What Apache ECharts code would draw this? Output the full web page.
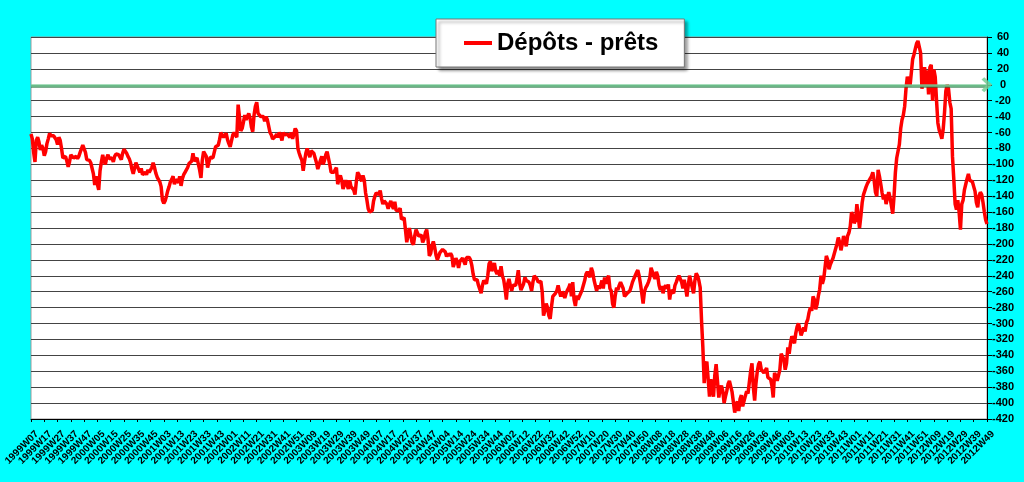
<!DOCTYPE html>
<html>
<head>
<meta charset="utf-8">
<script src="https://cdn.jsdelivr.net/npm/echarts@6/dist/echarts.min.js"></script>
<style>
html,body{margin:0;padding:0;background:#00ffff;}
#chart{width:1024px;height:482px;}
</style>
</head>
<body>
<div id="chart"></div>
<script>
// ISO weeks: first category 1999W07, last 2012W49
const years = [1999,2000,2001,2002,2003,2004,2005,2006,2007,2008,2009,2010,2011,2012];
const weeksPerYear = [52,52,52,52,52,53,52,52,52,52,53,52,52,52];
const firstWeek = 7;
const lastWeek = 49;
const labelStep = 10;

const v1999 = [-62,-68,-85,-97,-70,-66,-72,-82,-76,-80,
-89,-84,-74,-68,-61,-64,-66,-64,-63,-69,
-75,-66,-70,-80,-92,-94,-90,-96,-103,-97,
-88,-87,-92,-94,-90,-93,-90,-85,-83,-76,
-75,-85,-94,-93,-95,-98];
const v2000 = [-100,-112,-126,-115,-125,-132,-108,-97,-88,-96,
-100,-92,-88,-93,-91,-92,-97,-90,-87,-85,
-88,-91,-94,-86,-81,-80,-86,-90,-93,-98,
-106,-112,-105,-98,-100,-106,-110,-105,-113,-112,
-110,-113,-107,-110,-108,-104,-98,-104,-111,-116,
-118,-122];
const v2001 = [-128,-145,-149,-146,-140,-133,-128,-122,-119,-115,
-125,-119,-118,-123,-115,-127,-118,-113,-110,-107,
-104,-99,-97,-96,-86,-96,-94,-92,-90,-107,
-117,-95,-84,-83,-90,-104,-97,-91,-91,-92,
-85,-78,-77,-76,-69,-60,-61,-66,-68,-61,
-69,-74];
const v2002 = [-78,-80,-63,-60,-62,-66,-25,-40,-58,-55,
-47,-38,-44,-40,-36,-42,-53,-59,-38,-27,
-22,-36,-38,-40,-39,-40,-46,-40,-44,-52,
-60,-63,-68,-70,-65,-62,-66,-60,-64,-70,
-60,-63,-65,-62,-61,-66,-60,-68,-62,-55,
-58,-80];
const v2003 = [-86,-91,-95,-108,-96,-86,-80,-78,-91,-83,
-83,-86,-92,-98,-106,-104,-95,-90,-100,-95,
-88,-84,-84,-100,-110,-112,-110,-108,-104,-125,
-118,-114,-120,-131,-126,-120,-122,-131,-120,-128,
-126,-132,-138,-122,-110,-113,-118,-121,-114,-120,
-136,-145];
const v2004 = [-156,-160,-162,-158,-146,-140,-136,-138,-138,-133,
-143,-150,-146,-146,-150,-156,-150,-146,-152,-156,
-147,-158,-160,-158,-155,-169,-171,-167,-182,-198,
-188,-180,-190,-198,-201,-190,-182,-186,-190,-192,
-189,-198,-194,-186,-182,-194,-215,-212,-202,-197,
-204,-214,-220];
const v2005 = [-218,-211,-212,-207,-205,-210,-216,-212,-215,-212,
-215,-229,-224,-218,-222,-230,-222,-221,-218,-220,
-226,-217,-215,-217,-220,-227,-238,-245,-244,-245,
-252,-257,-262,-252,-246,-245,-250,-240,-225,-222,
-234,-230,-224,-234,-238,-233,-240,-228,-240,-245,
-256,-270];
const v2006 = [-250,-244,-252,-259,-252,-254,-252,-244,-233,-250,
-258,-258,-250,-242,-246,-245,-248,-252,-259,-248,
-240,-240,-244,-248,-246,-247,-260,-290,-284,-275,
-280,-290,-294,-279,-266,-265,-262,-259,-252,-260,
-266,-260,-263,-268,-262,-258,-255,-250,-266,-248,
-270,-278];
const v2007 = [-265,-270,-266,-262,-258,-256,-246,-238,-235,-236,
-242,-230,-235,-245,-252,-259,-252,-256,-252,-246,
-256,-242,-250,-244,-240,-256,-259,-275,-280,-265,
-255,-258,-252,-248,-250,-256,-266,-266,-262,-260,
-259,-254,-248,-244,-240,-236,-233,-240,-250,-262,
-275,-260];
const v2008 = [-255,-252,-248,-243,-230,-232,-240,-244,-235,-240,
-252,-258,-253,-262,-255,-252,-256,-251,-270,-258,
-258,-262,-252,-248,-243,-240,-241,-248,-256,-245,
-255,-266,-252,-240,-240,-255,-262,-246,-237,-240,
-246,-255,-296,-330,-375,-352,-348,-370,-392,-370,
-380,-392];
const v2009 = [-365,-351,-372,-393,-383,-378,-385,-400,-392,-385,
-376,-372,-372,-386,-399,-412,-402,-398,-410,-395,
-390,-404,-404,-391,-385,-388,-387,-360,-350,-380,
-397,-375,-360,-351,-348,-358,-360,-362,-360,-356,
-368,-366,-370,-378,-393,-362,-366,-372,-370,-358,
-338,-336,-345];
const v2010 = [-358,-350,-330,-338,-325,-316,-315,-325,-312,-304,
-300,-307,-315,-310,-305,-310,-299,-295,-286,-280,
-284,-266,-270,-282,-276,-265,-257,-240,-250,-244,
-230,-215,-220,-232,-226,-222,-218,-212,-210,-200,
-192,-198,-208,-200,-190,-188,-203,-190,-186,-178,
-160,-165];
const v2011 = [-174,-170,-150,-165,-180,-165,-148,-138,-136,-128,
-124,-122,-118,-115,-110,-120,-135,-140,-107,-115,
-125,-136,-144,-138,-150,-142,-135,-142,-152,-162,
-140,-110,-92,-90,-75,-55,-44,-38,-27,-5,
10,8,-2,15,32,38,45,52,55,57,
40,-5];
const v2012 = [10,22,-2,18,-12,22,25,-20,19,10,
-20,-48,-57,-62,-68,-56,-35,-8,0,-5,
-22,-30,-90,-119,-150,-157,-145,-160,-182,-150,
-145,-132,-125,-118,-112,-120,-118,-122,-128,-134,
-148,-154,-140,-135,-138,-148,-160,-170,-175];

const values = [].concat(v1999,v2000,v2001,v2002,v2003,v2004,v2005,v2006,v2007,v2008,v2009,v2010,v2011,v2012);

const categories = [];
years.forEach(function(y, i){
  const start = (i === 0) ? firstWeek : 1;
  const end = (i === years.length - 1) ? lastWeek : weeksPerYear[i];
  for (let w = start; w <= end; w++) {
    categories.push(y + 'W' + (w < 10 ? '0' + w : '' + w));
  }
});

const seriesName = 'Dépôts - prêts';
const FONT = 'Liberation Sans, Arial, sans-serif';

const chart = echarts.init(document.getElementById('chart'));
chart.setOption({
  animation: false,
  backgroundColor: '#00ffff',
  textStyle: { fontFamily: FONT },
  grid: {
    left: 31, right: 37, top: 37, bottom: 63,
    containLabel: false,
    outerBoundsMode: 'none',
    show: true, backgroundColor: '#ffffff', borderColor: '#999999', borderWidth: 1
  },
  legend: {
    left: 436, top: 19,
    padding: [12, 26, 12, 28],
    itemWidth: 28, itemHeight: 4,
    icon: 'rect',
    backgroundColor: '#ffffff',
    borderColor: '#777777', borderWidth: 1,
    shadowColor: 'rgba(0,0,0,0.45)', shadowBlur: 3, shadowOffsetX: 3, shadowOffsetY: 3,
    textStyle: { fontSize: 24, fontWeight: 'bold', color: '#000000', fontFamily: FONT },
    data: [seriesName]
  },
  xAxis: {
    type: 'category',
    data: categories,
    boundaryGap: false,
    axisLine: { show: true, onZero: false, lineStyle: { color: '#000000', width: 1 } },
    axisTick: { show: true, interval: labelStep - 1, length: 3, lineStyle: { color: '#000000' } },
    axisLabel: {
      interval: 0, hideOverlap: false,
      formatter: function (value, index) { return index % labelStep === 0 ? value : ''; },
      rotate: 45, fontSize: 10, lineHeight: 9, fontWeight: 'bold', color: '#000000',
      verticalAlign: 'top', padding: [0, -4, 0, 0],
      margin: 13, fontFamily: FONT
    },
    splitLine: { show: false }
  },
  yAxis: {
    type: 'value',
    position: 'right',
    min: -420, max: 60, interval: 20,
    axisLine: { show: true, lineStyle: { color: '#000000', width: 1 } },
    axisTick: { show: true, length: 5, lineStyle: { color: '#000000' } },
    axisLabel: { fontSize: 11, fontWeight: 'bold', color: '#000000', margin: 16, align: 'center', fontFamily: FONT },
    splitLine: { show: true, lineStyle: { color: '#444444', width: 1 } }
  },
  series: [{
    name: seriesName,
    type: 'line',
    data: values,
    symbol: 'none',
    showSymbol: false,
    lineStyle: { color: '#ff0000', width: 3.5 },
    itemStyle: { color: '#ff0000' },
    z: 2,
    markLine: {
      silent: true,
      symbol: ['none', 'path://M0,9 L10,0 L20,9 L17,12 L10,6 L3,12 Z'],
      symbolSize: [15, 11],
      label: { show: false },
      lineStyle: {
        color: 'rgba(120,205,150,0.85)', width: 2.5, type: 'solid',
        shadowColor: 'rgba(30,110,60,0.9)', shadowBlur: 0, shadowOffsetY: 1
      },
      itemStyle: { color: 'rgba(130,215,160,0.9)' },
      emphasis: { disabled: true },
      data: [{ yAxis: 0 }]
    }
  }]
});
</script>
</body>
</html>
